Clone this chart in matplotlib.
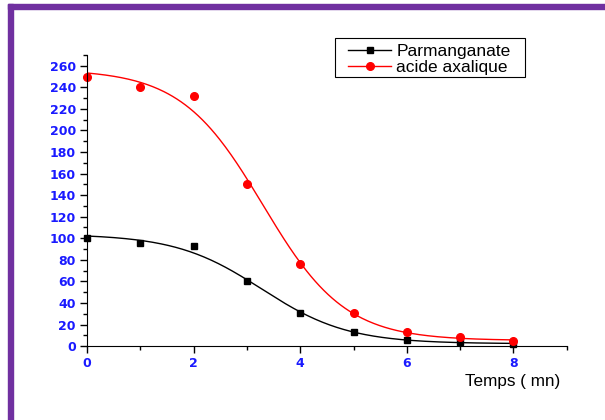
import matplotlib
matplotlib.use("Agg")
import matplotlib.pyplot as plt
import numpy as np
from matplotlib.lines import Line2D
from matplotlib.patches import Rectangle
from matplotlib.ticker import MultipleLocator

# data
temps = [0, 1, 2, 3, 4, 5, 6, 7, 8]
parmanganate = [100, 96, 93, 60, 31, 13, 6, 4, 2]
acide_oxalique = [250, 240, 232, 150, 76, 31, 13, 8, 5]
label_a = "Parmanganate"
label_b = "acide axalique"
x_label = "Temps ( mn)"


def boltzmann_fit(x, y):
    # Boltzmann sigmoid, grid on x0/dx, weighted lstsq for the plateaus
    x = np.asarray(x, float)
    y = np.asarray(y, float)
    w = 1.0 / np.sqrt(y)
    best = None
    for x0 in np.linspace(1.5, 5, 141):
        for dx in np.linspace(0.3, 2.0, 171):
            s = 1.0 / (1.0 + np.exp((x - x0) / dx))
            A = np.column_stack([np.ones_like(x), s])
            coef, *_ = np.linalg.lstsq(A * w[:, None], y * w, rcond=None)
            err = np.sum(((A @ coef - y) * w) ** 2)
            if best is None or err < best[0]:
                best = (err, x0, dx, coef)
    _, x0, dx, coef = best
    return lambda t: coef[0] + coef[1] / (1.0 + np.exp((t - x0) / dx))


fig = plt.figure(figsize=(6.05, 4.2), dpi=100)
ax = fig.add_axes([0.1438, 0.176, 0.793, 0.693])

xs = np.linspace(0, 8, 300)
fa = boltzmann_fit(temps, parmanganate)
fb = boltzmann_fit(temps, acide_oxalique)

ax.plot(xs, fa(xs), color="black", lw=1)
ax.plot(xs, fb(xs), color="red", lw=1)
ax.plot(temps, parmanganate, "s", color="black", ms=5, clip_on=False)
ax.plot(temps, acide_oxalique, "o", color="red", ms=5.5, clip_on=False)

ax.set_xlim(0, 9)
ax.set_ylim(0, 270)
ax.spines["top"].set_visible(False)
ax.spines["right"].set_visible(False)
ax.xaxis.set_major_locator(MultipleLocator(2))
ax.xaxis.set_minor_locator(MultipleLocator(1))
ax.yaxis.set_major_locator(MultipleLocator(20))
ax.yaxis.set_minor_locator(MultipleLocator(10))
ax.tick_params(which="major", direction="out", length=5, width=1,
               labelsize=9, labelcolor="#1a1aff", pad=3)
ax.tick_params(which="minor", direction="out", length=3, width=1)
ax.set_xticks([0, 2, 4, 6, 8])
for lab in ax.get_xticklabels() + ax.get_yticklabels():
    lab.set_fontweight("bold")

fig.text(0.926, 0.092, x_label, ha="right", va="center",
         fontsize=12.3, family="Liberation Sans")

handles = [Line2D([], [], color="black", lw=1, marker="s", ms=5),
           Line2D([], [], color="red", lw=1, marker="o", ms=5.5)]
leg = ax.legend(handles, [label_a, label_b], loc="upper left",
                bbox_to_anchor=(0.5183, 1.0786), frameon=False,
                handlelength=2.5, borderpad=0.2, labelspacing=0.05,
                handletextpad=0.3,
                prop={"family": "Liberation Sans", "size": 12.5})

# legend box is wider than the legend content
fig.patches.append(Rectangle((335 / 605, 1 - 77 / 420), 190 / 605, 39 / 420,
                             transform=fig.transFigure, fill=False,
                             edgecolor="black", lw=0.8))

# purple frame around the page
fig.patches.append(Rectangle((8 / 605, 0), 5 / 605, 1 - 4 / 420,
                             transform=fig.transFigure, color="#7030a0"))
fig.patches.append(Rectangle((8 / 605, 1 - 9 / 420), 1, 5 / 420,
                             transform=fig.transFigure, color="#7030a0"))

fig.savefig("out.png", dpi=100)
